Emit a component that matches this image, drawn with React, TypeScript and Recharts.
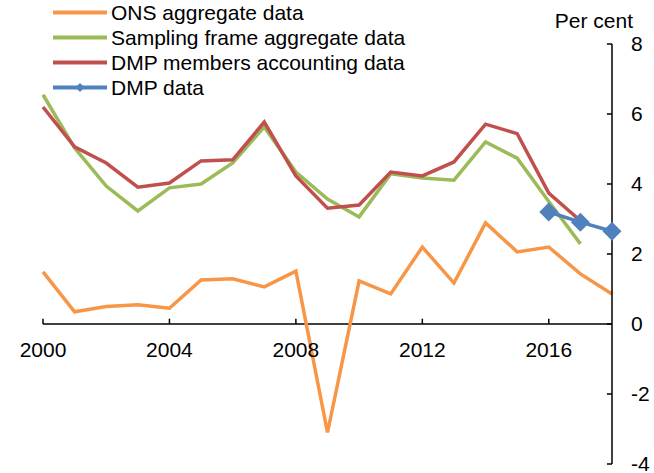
import { LineChart, Line, XAxis, YAxis, Legend, ReferenceLine, ReferenceDot } from "recharts";

const years = [2000, 2001, 2002, 2003, 2004, 2005, 2006, 2007, 2008, 2009, 2010, 2011, 2012, 2013, 2014, 2015, 2016, 2017, 2018];
const ons = [1.49, 0.35, 0.5, 0.55, 0.45, 1.26, 1.29, 1.06, 1.51, -3.1, 1.23, 0.86, 2.2, 1.17, 2.89, 2.06, 2.2, 1.43, 0.86];
const frame = [6.55, 5.03, 3.94, 3.23, 3.89, 4.0, 4.6, 5.63, 4.34, 3.57, 3.06, 4.29, 4.17, 4.11, 5.2, 4.74, 3.5, 2.29, null];
const members = [6.2, 5.06, 4.6, 3.91, 4.03, 4.66, 4.69, 5.77, 4.23, 3.31, 3.4, 4.34, 4.23, 4.63, 5.71, 5.44, 3.74, 2.95, null];
const dmp = [null, null, null, null, null, null, null, null, null, null, null, null, null, null, null, null, 3.2, 2.91, 2.65];

const xTicks = [2000, 2004, 2008, 2012, 2016];
const yTicks = [-4, -2, 0, 2, 4, 6, 8];

const series = [
  { key: "ons", name: "ONS aggregate data", color: "#F79646" },
  { key: "frame", name: "Sampling frame aggregate data", color: "#9BBB59" },
  { key: "members", name: "DMP members accounting data", color: "#C0504D" },
  { key: "dmp", name: "DMP data", color: "#4F81BD" },
];

const data = years.map((year, i) => ({
  year,
  ons: ons[i],
  frame: frame[i],
  members: members[i],
  dmp: dmp[i],
}));

const font = "'Liberation Sans', Arial, sans-serif";

// diamond marker for the DMP series
const renderDiamond = (props: any) => {
  const { cx, cy, index } = props;
  if (cx == null || cy == null) return <g key={"d" + index} />;
  const r = 9.5;
  return (
    <polygon
      key={"d" + index}
      points={`${cx},${cy - r} ${cx + r},${cy} ${cx},${cy + r} ${cx - r},${cy}`}
      fill="#4F81BD"
    />
  );
};

function LegendBox() {
  return (
    <div style={{ fontFamily: font, fontSize: 21, color: "#000" }}>
      {series.map((s) => (
        <div key={s.key} style={{ display: "flex", alignItems: "center", height: 25 }}>
          <svg width={58} height={25}>
            <line x1={0} y1={12.5} x2={54} y2={12.5} stroke={s.color} strokeWidth={4} />
            {s.key === "dmp" && <polygon points="27,8 31.5,12.5 27,17 22.5,12.5" fill={s.color} />}
          </svg>
          <span style={{ whiteSpace: "nowrap" }}>{s.name}</span>
        </div>
      ))}
    </div>
  );
}

export default function App() {
  return (
    <div style={{ position: "absolute", left: 0, top: 0, width: 654, height: 473, background: "#fff", fontFamily: font }}>
      <LineChart width={654} height={473} data={data} margin={{ top: 44, right: 0, bottom: 9, left: 43 }}>
        <XAxis dataKey="year" type="number" domain={[2000, 2018]} ticks={xTicks} hide />
        <YAxis
          orientation="right"
          domain={[-4, 8]}
          ticks={yTicks}
          width={42}
          axisLine={{ stroke: "#000", strokeWidth: 1.5 }}
          tickLine={false}
          tickSize={0}
          tickMargin={19}
          tick={{ fill: "#000", fontSize: 21, fontFamily: font }}
          interval={0}
        />
        <ReferenceLine y={0} stroke="#000" strokeWidth={1.5} />
        {xTicks.map((t) => (
          <ReferenceLine key={"xt" + t} segment={[{ x: t, y: 0 }, { x: t, y: 0.15 }]} stroke="#000" strokeWidth={1.5} />
        ))}
        {yTicks.map((t) => (
          <ReferenceLine key={"yt" + t} segment={[{ x: 2018, y: t }, { x: 2017.84, y: t }]} stroke="#000" strokeWidth={1.5} />
        ))}
        {xTicks.map((t) => (
          <ReferenceDot
            key={"xl" + t}
            x={t}
            y={0}
            r={0}
            stroke="none"
            fill="none"
            label={{ value: String(t), position: "bottom", offset: 18, fill: "#000", fontSize: 21, fontFamily: font }}
          />
        ))}
        <Legend
          layout="vertical"
          align="center"
          verticalAlign="middle"
          wrapperStyle={{ position: "absolute", left: 53, top: 0, width: 420 }}
          content={() => <LegendBox />}
        />
        <Line type="linear" dataKey="ons" name="ONS aggregate data" stroke="#F79646" strokeWidth={3.5} dot={false} isAnimationActive={false} />
        <Line type="linear" dataKey="frame" name="Sampling frame aggregate data" stroke="#9BBB59" strokeWidth={3.5} dot={false} isAnimationActive={false} />
        <Line type="linear" dataKey="members" name="DMP members accounting data" stroke="#C0504D" strokeWidth={3.5} dot={false} isAnimationActive={false} />
        <Line
          type="linear"
          dataKey="dmp"
          name="DMP data"
          stroke="#4F81BD"
          strokeWidth={3.5}
          dot={renderDiamond}
          isAnimationActive={false}
        />
      </LineChart>
      <div style={{ position: "absolute", right: 21, top: 9, fontSize: 21, color: "#000", fontFamily: font }}>Per cent</div>
    </div>
  );
}
